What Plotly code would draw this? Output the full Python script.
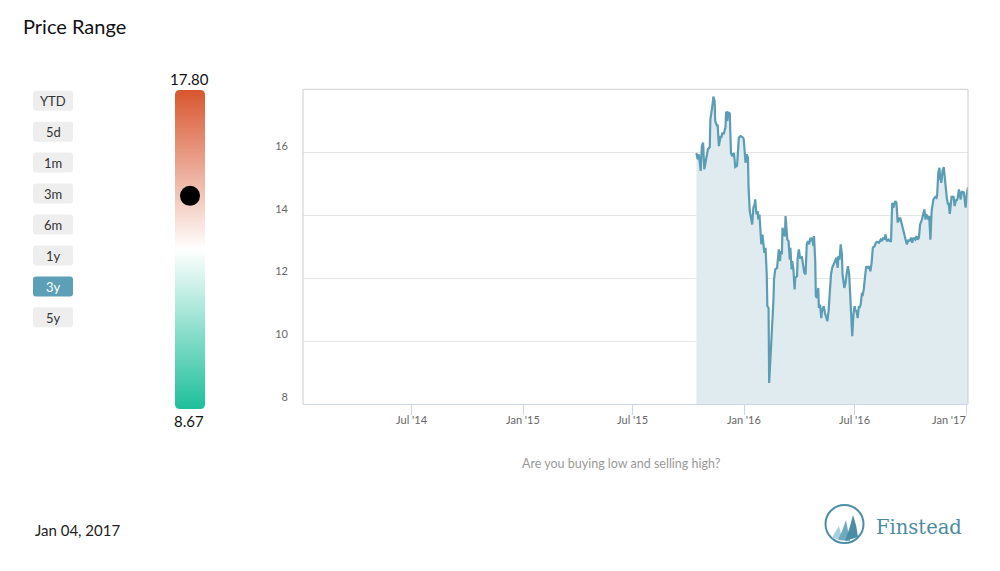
import plotly.graph_objects as go
import numpy as np

# ---------------- data ----------------
dates = [
    "2015-10-14", "2015-10-16", "2015-10-18", "2015-10-21", "2015-10-23", "2015-10-25", "2015-10-27", "2015-10-30",
    "2015-11-02", "2015-11-05", "2015-11-06", "2015-11-09", "2015-11-11", "2015-11-13", "2015-11-14", "2015-11-17",
    "2015-11-18", "2015-11-20", "2015-11-23", "2015-11-24", "2015-11-26", "2015-11-28", "2015-12-01", "2015-12-02",
    "2015-12-04", "2015-12-05", "2015-12-08", "2015-12-10", "2015-12-12", "2015-12-15", "2015-12-17", "2015-12-20",
    "2015-12-23", "2015-12-26", "2015-12-30", "2015-12-31", "2016-01-02", "2016-01-03", "2016-01-05", "2016-01-07",
    "2016-01-08", "2016-01-10", "2016-01-12", "2016-01-14", "2016-01-16", "2016-01-18", "2016-01-19", "2016-01-21",
    "2016-01-23", "2016-01-24", "2016-01-26", "2016-01-28", "2016-01-29", "2016-01-31", "2016-02-02", "2016-02-03",
    "2016-02-05", "2016-02-07", "2016-02-08", "2016-02-10", "2016-02-11", "2016-02-14", "2016-02-16", "2016-02-18",
    "2016-02-19", "2016-02-21", "2016-02-24", "2016-02-25", "2016-02-27", "2016-02-29", "2016-03-01", "2016-03-03",
    "2016-03-04", "2016-03-06", "2016-03-08", "2016-03-09", "2016-03-12", "2016-03-14", "2016-03-16", "2016-03-17",
    "2016-03-19", "2016-03-20", "2016-03-22", "2016-03-24", "2016-03-25", "2016-03-28", "2016-03-29", "2016-03-31",
    "2016-04-02", "2016-04-05", "2016-04-07", "2016-04-09", "2016-04-11", "2016-04-13", "2016-04-15", "2016-04-17",
    "2016-04-19", "2016-04-20", "2016-04-22", "2016-04-24", "2016-04-25", "2016-04-27", "2016-04-28", "2016-04-30",
    "2016-05-02", "2016-05-03", "2016-05-05", "2016-05-07", "2016-05-08", "2016-05-11", "2016-05-13", "2016-05-15",
    "2016-05-17", "2016-05-19", "2016-05-21", "2016-05-23", "2016-05-25", "2016-05-28", "2016-05-30", "2016-06-01",
    "2016-06-03", "2016-06-04", "2016-06-06", "2016-06-08", "2016-06-10", "2016-06-11", "2016-06-14", "2016-06-16",
    "2016-06-18", "2016-06-20", "2016-06-22", "2016-06-24", "2016-06-26", "2016-06-27", "2016-06-29", "2016-07-01",
    "2016-07-02", "2016-07-04", "2016-07-06", "2016-07-08", "2016-07-09", "2016-07-11", "2016-07-13", "2016-07-14",
    "2016-07-16", "2016-07-18", "2016-07-20", "2016-07-23", "2016-07-25", "2016-07-27", "2016-07-29", "2016-07-31",
    "2016-08-03", "2016-08-05", "2016-08-07", "2016-08-10", "2016-08-13", "2016-08-15", "2016-08-17", "2016-08-19",
    "2016-08-21", "2016-08-23", "2016-08-26", "2016-08-28", "2016-08-30", "2016-09-01", "2016-09-03", "2016-09-06",
    "2016-09-08", "2016-09-10", "2016-09-11", "2016-09-13", "2016-09-14", "2016-09-17", "2016-09-19", "2016-09-21",
    "2016-09-23", "2016-09-25", "2016-09-28", "2016-09-30", "2016-10-02", "2016-10-04", "2016-10-06", "2016-10-09",
    "2016-10-11", "2016-10-13", "2016-10-15", "2016-10-17", "2016-10-20", "2016-10-22", "2016-10-24", "2016-10-26",
    "2016-10-27", "2016-10-29", "2016-10-31", "2016-11-01", "2016-11-03", "2016-11-05", "2016-11-07", "2016-11-08",
    "2016-11-11", "2016-11-13", "2016-11-14", "2016-11-16", "2016-11-18", "2016-11-19", "2016-11-21", "2016-11-23",
    "2016-11-25", "2016-11-27", "2016-11-28", "2016-11-30", "2016-12-02", "2016-12-03", "2016-12-05", "2016-12-06",
    "2016-12-08", "2016-12-10", "2016-12-11", "2016-12-13", "2016-12-15", "2016-12-16", "2016-12-18", "2016-12-20",
    "2016-12-21", "2016-12-23", "2016-12-25", "2016-12-26", "2016-12-28", "2016-12-30", "2016-12-31", "2017-01-02",
    "2017-01-04",
]
prices = [
    16.00, 15.80, 15.96, 15.43, 16.22, 16.33, 15.48, 15.85,
    16.12, 16.19, 17.07, 17.45, 17.80, 17.66, 17.02, 16.86,
    16.91, 16.22, 16.54, 16.49, 16.65, 16.60, 16.83, 17.32,
    17.02, 17.29, 17.26, 16.00, 15.90, 16.00, 15.55, 15.59,
    16.49, 16.54, 16.49, 16.44, 15.85, 15.69, 15.96, 15.85,
    14.89, 14.15, 13.94, 13.72, 14.26, 14.36, 14.52, 14.04,
    14.15, 13.88, 14.04, 13.40, 13.09, 13.40, 12.98, 12.82,
    12.98, 12.13, 11.12, 11.06, 8.67, 9.68, 10.32, 11.28,
    11.97, 12.29, 12.34, 12.55, 12.93, 12.55, 12.87, 12.77,
    13.62, 13.40, 13.35, 13.99, 13.24, 13.19, 12.60, 12.98,
    12.29, 12.55, 12.29, 11.65, 12.02, 12.07, 12.66, 12.93,
    12.66, 12.68, 12.45, 12.18, 12.13, 13.09, 13.19, 13.09,
    13.30, 13.19, 13.30, 13.03, 13.35, 12.55, 11.44, 11.38,
    11.70, 11.06, 11.17, 10.74, 10.96, 11.12, 10.90, 10.74,
    10.64, 10.96, 11.54, 12.13, 12.34, 12.50, 12.55, 12.66,
    12.34, 12.71, 12.60, 13.09, 12.77, 12.13, 11.70, 11.86,
    12.18, 12.39, 12.13, 11.49, 10.74, 10.16, 10.85, 11.12,
    11.01, 10.96, 10.74, 11.12, 11.06, 11.17, 11.54, 11.44,
    11.65, 12.02, 12.39, 12.34, 12.39, 12.23, 12.50, 12.98,
    13.03, 13.14, 13.17, 13.14, 13.24, 13.19, 13.30, 13.24,
    13.40, 13.19, 13.24, 13.19, 13.19, 14.41, 14.26, 14.47,
    14.41, 13.78, 13.94, 13.83, 13.94, 13.72, 13.51, 13.40,
    13.24, 13.09, 13.24, 13.19, 13.30, 13.14, 13.30, 13.24,
    13.35, 13.24, 13.30, 13.72, 13.88, 14.04, 14.20, 13.88,
    14.04, 13.99, 13.88, 13.99, 13.24, 14.15, 14.47, 14.52,
    14.60, 14.57, 14.63, 15.37, 15.53, 15.21, 15.05, 15.43,
    15.55, 15.16, 14.89, 14.57, 14.36, 14.41, 14.06, 14.31,
    14.63, 14.57, 14.63, 14.31, 14.52, 14.47, 14.57, 14.84,
    14.68, 14.52, 14.79, 14.73, 14.76, 14.31, 14.26, 14.68,
    14.91,
]
current_price = 14.77
x_tick_dates = ["2014-07-01", "2015-01-01", "2015-07-01", "2016-01-01", "2016-07-01", "2017-01-01"]
x_tick_labels = ["Jul '14", "Jan '15", "Jul '15", "Jan '16", "Jul '16", "Jan '17"]
y_tick_values = [8, 10, 12, 14, 16]
range_buttons = ["YTD", "5d", "1m", "3m", "6m", "1y", "3y", "5y"]
active_button = "3y"
view_start, view_end = "2014-01-03", "2017-01-04"
as_of_label = "Jan 04, 2017"

# ---------------- layout helpers (screen pixel -> paper) ----------------
# Page body keeps its default 8px margin.
OFF = 8
W, H = 1000, 555
FONT = "Lato"


def PX(x):
    return (x - OFF) / W


def PY(y):
    return 1 - (y - OFF) / H


def pix_path(cmds):
    s = ""
    for cmd, ps in cmds:
        s += cmd + " " + " ".join(f"{PX(a):.5f},{PY(b):.5f}" for a, b in ps) + " "
    return s + "Z"


def rounded_rect(x0, y0, x1, y1, r):
    return pix_path([
        ("M", [(x0 + r, y0)]), ("L", [(x1 - r, y0)]), ("Q", [(x1, y0), (x1, y0 + r)]),
        ("L", [(x1, y1 - r)]), ("Q", [(x1, y1), (x1 - r, y1)]), ("L", [(x0 + r, y1)]),
        ("Q", [(x0, y1), (x0, y1 - r)]), ("L", [(x0, y0 + r)]), ("Q", [(x0, y0), (x0 + r, y0)]),
    ])


# main plot geometry (screen px)
PL, PR, PT, PB = 303, 968, 89.3, 404
# colour-bar geometry (screen px)
BL, BR, BT, BB = 175, 205, 90, 409

fig = go.Figure()

# area chart
fig.add_trace(go.Scatter(
    x=dates, y=prices, mode="lines", fill="tozeroy",
    line=dict(color="#5b9db4", width=2.2), fillcolor="#dfebef",
    hoverinfo="x+y", showlegend=False, xaxis="x", yaxis="y",
))

# gradient bar (min -> max of the data)
pmin, pmax = min(prices), max(prices)
grad = np.linspace(pmin, pmax, 200)
fig.add_trace(go.Heatmap(
    x=[0], y=grad, z=[[v] for v in grad],
    colorscale=[[0, "#1dbf9b"], [0.5, "#ffffff"], [1, "#d8562f"]],
    showscale=False, hoverinfo="skip", xaxis="x2", yaxis="y2",
))
fig.add_trace(go.Scatter(
    x=[0], y=[current_price], mode="markers",
    marker=dict(color="#000000", size=20), cliponaxis=False,
    showlegend=False, hoverinfo="y", xaxis="x2", yaxis="y2",
))

shapes = []
annotations = []

# plot border (left, top, right)
for (xa, ya, xb, yb) in [(PL, PB, PL, PT), (PL, PT, PR, PT), (PR, PT, PR, PB)]:
    shapes.append(dict(type="line", xref="paper", yref="paper",
                       x0=PX(xa), y0=PY(ya), x1=PX(xb), y1=PY(yb),
                       line=dict(color="#cccccc", width=1), layer="above"))

# rounded corner masks for gradient bar
r = 5
for cx, cy, sx, sy in [(BL, BT, 1, 1), (BR, BT, -1, 1), (BL, BB, 1, -1), (BR, BB, -1, -1)]:
    shapes.append(dict(type="path", xref="paper", yref="paper",
                       path=pix_path([("M", [(cx - sx, cy - sy)]), ("L", [(cx + sx * r, cy - sy)]),
                                      ("L", [(cx + sx * r, cy)]),
                                      ("Q", [(cx, cy), (cx, cy + sy * r)]),
                                      ("L", [(cx - sx, cy + sy * r)])]),
                       fillcolor="#ffffff", line=dict(width=0), layer="above"))

# range buttons
for i, lab in enumerate(range_buttons):
    y0 = 90.7 + i * 30.95
    active = lab == active_button
    shapes.append(dict(type="path", xref="paper", yref="paper",
                       path=rounded_rect(33, y0, 73, y0 + 20, 3),
                       fillcolor="#5c9fb6" if active else "#eeeeee",
                       line=dict(width=0), layer="below"))
    annotations.append(dict(text=lab, x=PX(53), y=PY(y0 + 10.5), xanchor="center", yanchor="middle",
                            font=dict(family=FONT, size=13, color="#ffffff" if active else "#333333")))

# x tick labels placed on the date axis (last one kept inside the plot, as in the original)
for i, (d, lab) in enumerate(zip(x_tick_dates, x_tick_labels)):
    last = i == len(x_tick_dates) - 1
    annotations.append(dict(text=lab, x=d, xref="x", y=PY(419.5), yref="paper",
                            xanchor="right" if last else "center", yanchor="middle",
                            xshift=2 if last else 0,
                            font=dict(family=FONT, size=11, color="#666666")))

# logo
shapes.append(dict(type="circle", xref="paper", yref="paper",
                   x0=PX(825.5), x1=PX(863.5), y0=PY(543), y1=PY(505),
                   line=dict(color="#4d8fa6", width=2), fillcolor="rgba(0,0,0,0)"))
sails = [
    ([(832, 538), (836, 530), (839, 526), (841, 533), (842, 540)], "#a9cfdc"),
    ([(838, 540), (843, 530), (846, 520), (848, 531), (850, 541)], "#6ea9bd"),
    ([(845, 541), (850, 528), (853, 515), (857, 526), (858, 537)], "#4a8ea6"),
]
for pts, col in sails:
    p = pix_path([("M", [pts[0]]), ("Q", [pts[1], pts[2]]), ("Q", [pts[3], pts[4]])])
    shapes.append(dict(type="path", xref="paper", yref="paper", path=p,
                       fillcolor=col, line=dict(width=0)))

annotations += [
    dict(text="Price Range", x=PX(21), y=PY(26), xanchor="left", yanchor="middle",
         font=dict(family=FONT, size=20, color="#111111")),
    dict(text=f"{pmax:.2f}", x=PX(189), y=PY(79), xanchor="center", yanchor="middle",
         font=dict(family=FONT, size=15, color="#111111")),
    dict(text=f"{pmin:.2f}", x=PX(189), y=PY(421), xanchor="center", yanchor="middle",
         font=dict(family=FONT, size=15, color="#111111")),
    dict(text="Are you buying low and selling high?", x=PX(621), y=PY(463),
         xanchor="center", yanchor="middle", font=dict(family=FONT, size=12.5, color="#999999")),
    dict(text=as_of_label, x=PX(33), y=PY(530), xanchor="left", yanchor="middle",
         font=dict(family=FONT, size=15, color="#222222")),
    dict(text="Finstead", x=PX(874), y=PY(527), xanchor="left", yanchor="middle",
         font=dict(family="DejaVu Serif", size=19.5, color="#4a8ba2")),
]
for a in annotations:
    a.setdefault("xref", "paper")
    a.setdefault("yref", "paper")
    a.setdefault("showarrow", False)

fig.update_layout(
    width=W, height=H, margin=dict(l=0, r=0, t=0, b=0), autosize=False,
    paper_bgcolor="#ffffff", plot_bgcolor="#ffffff",
    font=dict(family=FONT),
    showlegend=False,
    xaxis=dict(domain=[PX(PL), PX(PR)], type="date", range=[view_start, view_end],
               showgrid=False, zeroline=False, showline=True, linecolor="#ccd6eb", linewidth=1,
               ticks="outside", ticklen=10, tickcolor="#ccd6eb", tickwidth=1,
               tickvals=x_tick_dates, showticklabels=False, fixedrange=True),
    yaxis=dict(domain=[PY(PB), PY(PT)], range=[8, 18.03], showgrid=True, gridcolor="#e6e6e6",
               gridwidth=1, zeroline=False, showline=False, tickvals=y_tick_values,
               ticklabelshift=-7, ticklabelstandoff=14,
               tickfont=dict(family=FONT, size=11, color="#666666"), fixedrange=True),
    xaxis2=dict(domain=[PX(BL), PX(BR)], range=[-0.5, 0.5], visible=False, fixedrange=True,
                anchor="y2"),
    yaxis2=dict(domain=[PY(BB), PY(BT)], range=[pmin, pmax], visible=False, fixedrange=True,
                anchor="x2"),
    shapes=shapes, annotations=annotations,
)

fig.write_html("out.html", config={"displayModeBar": False})
